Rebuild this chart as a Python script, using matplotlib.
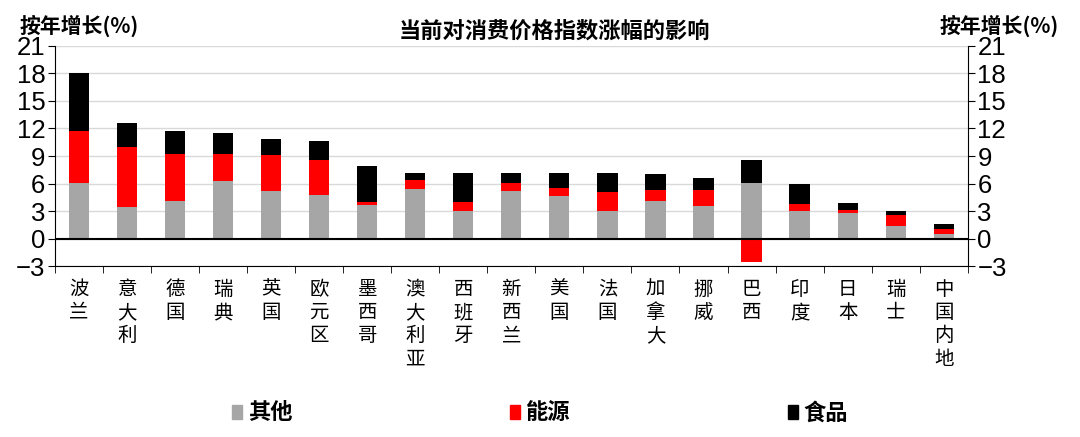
import numpy as np
import matplotlib
matplotlib.use("Agg")
import matplotlib.pyplot as plt
from matplotlib.patches import Patch

plt.rcParams['font.family'] = ['Noto Sans CJK SC', 'DejaVu Sans']

countries = ["波兰", "意大利", "德国", "瑞典", "英国", "欧元区", "墨西哥", "澳大利亚", "西班牙", "新西兰",
             "美国", "法国", "加拿大", "挪威", "巴西", "印度", "日本", "瑞士", "中国内地"]
# 按年增长(%) 各部分贡献
other = [6.1, 3.4, 4.1, 6.3, 5.2, 4.8, 3.7, 5.45, 3.0, 5.2, 4.6, 3.05, 4.1, 3.5, 6.1, 3.05, 2.75, 1.4, 0.55]
energy = [5.6, 6.55, 5.15, 2.95, 3.9, 3.8, 0.3, 0.95, 1.0, 0.9, 0.9, 2.0, 1.15, 1.75, -2.6, 0.7, 0.35, 1.2, 0.5]
food = [6.3, 2.65, 2.45, 2.25, 1.7, 2.0, 3.95, 0.8, 3.2, 1.1, 1.7, 2.15, 1.75, 1.3, 2.45, 2.15, 0.8, 0.4, 0.55]

other = np.array(other)
energy = np.array(energy)
food = np.array(food)
x = np.arange(len(countries))

fig = plt.figure(figsize=(10.8, 4.37), dpi=100)
ax = fig.add_axes([0.051, 0.391, 0.845, 0.504])

w = 0.42
ax.bar(x, other, w, color="#A6A6A6", zorder=2)
e_bottom = np.where(energy >= 0, other, 0)
ax.bar(x, energy, w, bottom=e_bottom, color="#FF0000", zorder=2)
f_bottom = np.where(energy >= 0, other + energy, other)
ax.bar(x, food, w, bottom=f_bottom, color="#000000", zorder=2)

ax.set_ylim(-3, 21)
ax.set_xlim(-0.5, len(countries) - 0.5)
ax.set_yticks(range(-3, 22, 3))
ax.grid(axis="y", color="#D9D9D9", lw=1, zorder=0)
ax.axhline(0, color="black", lw=1.5, zorder=3)

ax.spines["top"].set_visible(False)
for s in ["left", "right", "bottom"]:
    ax.spines[s].set_color("black")

ax.set_xticks(x)
ax.set_xticklabels(["\n".join(c) for c in countries], fontsize=14, linespacing=1.15)
ax.tick_params(axis="x", length=0, pad=9)
ax.set_xticks(np.arange(-0.5, len(countries)), minor=True)
ax.tick_params(axis="x", which="minor", length=5, direction="out")

ax.tick_params(axis="y", labelsize=18.5, length=5, direction="out", labelright=True, right=True, pad=2)
for t in ax.yaxis.get_major_ticks():
    t.label1.set_family(["Liberation Sans", "DejaVu Sans"])
    t.label2.set_family(["Liberation Sans", "DejaVu Sans"])

fig.text(0.018, 0.915, "按年增长(%)", fontsize=15, fontweight="bold", ha="left", va="bottom")
fig.text(0.925, 0.915, "按年增长(%)", fontsize=15, fontweight="bold", ha="center", va="bottom")
fig.text(0.513, 0.902, "当前对消费价格指数涨幅的影响", fontsize=16, fontweight="bold", ha="center", va="bottom")

handles = [Patch(color="#A6A6A6", label="其他"), Patch(color="#FF0000", label="能源"),
           Patch(color="#000000", label="食品")]
fig.legend(handles=handles, loc="center", bbox_to_anchor=(0.5, 0.055), ncol=3, frameon=False,
           handlelength=0.45, handleheight=0.6, handletextpad=0.25, columnspacing=9.8,
           prop={"size": 16, "weight": "bold"})

fig.savefig("out.png", dpi=100)
